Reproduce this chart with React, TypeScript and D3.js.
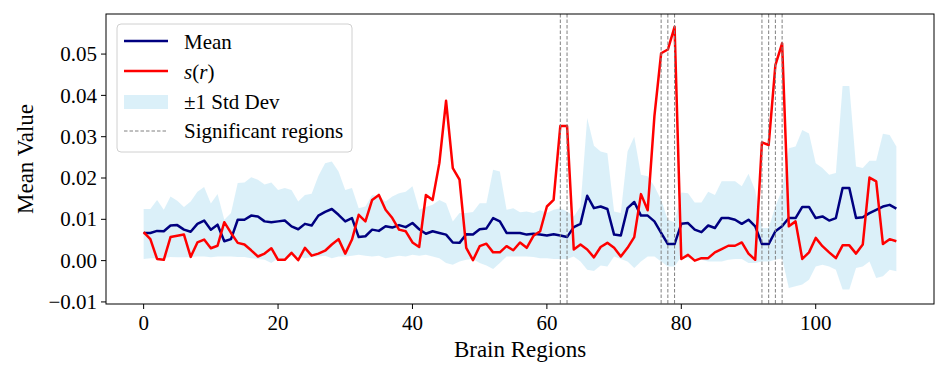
import * as React from 'react'
import * as d3 from 'd3'

// region index 0..112
const meanValues = [
  0.0067, 0.0067, 0.0072, 0.0071, 0.0085, 0.0086, 0.0075, 0.0070, 0.0089, 0.0097,
  0.0075, 0.0087, 0.0047, 0.0052, 0.0099, 0.0099, 0.0109, 0.0107, 0.0095, 0.0093,
  0.0095, 0.0097, 0.0083, 0.0076, 0.0089, 0.0085, 0.0109, 0.0118, 0.0125, 0.0111,
  0.0095, 0.0103, 0.0057, 0.0059, 0.0075, 0.0072, 0.0083, 0.0080, 0.0086, 0.0081,
  0.0091, 0.0076, 0.0065, 0.0071, 0.0067, 0.0063, 0.0044, 0.0043, 0.0064, 0.0063,
  0.0076, 0.0078, 0.0103, 0.0095, 0.0067, 0.0067, 0.0067, 0.0063, 0.0065, 0.0063,
  0.0061, 0.0064, 0.0061, 0.0057, 0.0081, 0.0089, 0.0157, 0.0127, 0.0131, 0.0125,
  0.0063, 0.0061, 0.0127, 0.0142, 0.0109, 0.0109, 0.0095, 0.0067, 0.0040, 0.0040,
  0.0089, 0.0091, 0.0075, 0.0069, 0.0085, 0.0079, 0.0103, 0.0103, 0.0099, 0.0089,
  0.0099, 0.0083, 0.0040, 0.0040, 0.0071, 0.0083, 0.0103, 0.0103, 0.0130, 0.0130,
  0.0103, 0.0107, 0.0097, 0.0103, 0.0176, 0.0176, 0.0103, 0.0105, 0.0115, 0.0123,
  0.0131, 0.0135, 0.0126,
]

const sValues = [
  0.0069, 0.0052, 0.0004, 0.0002, 0.0057, 0.0060, 0.0063, 0.0009, 0.0044, 0.0051,
  0.0030, 0.0036, 0.0093, 0.0067, 0.0043, 0.0039, 0.0025, 0.0010, 0.0017, 0.0030,
  0.0002, 0.0002, 0.0019, 0.0001, 0.0031, 0.0012, 0.0017, 0.0024, 0.0039, 0.0052,
  0.0017, 0.0051, 0.0111, 0.0095, 0.0147, 0.0159, 0.0123, 0.0103, 0.0075, 0.0071,
  0.0044, 0.0033, 0.0159, 0.0147, 0.0236, 0.0387, 0.0224, 0.0196, 0.0031, 0.0001,
  0.0035, 0.0041, 0.0020, 0.0020, 0.0035, 0.0025, 0.0044, 0.0031, 0.0060, 0.0071,
  0.0131, 0.0147, 0.0326, 0.0326, 0.0027, 0.0039, 0.0027, 0.0008, 0.0033, 0.0043,
  0.0031, 0.0010, 0.0031, 0.0057, 0.0161, 0.0122, 0.0350, 0.0502, 0.0511, 0.0566,
  0.0004, 0.0014, 0.0000, 0.0006, 0.0006, 0.0020, 0.0028, 0.0036, 0.0036, 0.0044,
  0.0017, 0.0002, 0.0286, 0.0280, 0.0473, 0.0526, 0.0083, 0.0095, 0.0004, 0.0020,
  0.0055, 0.0035, 0.0020, 0.0006, 0.0037, 0.0037, 0.0017, 0.0039, 0.0201, 0.0192,
  0.0040, 0.0052, 0.0047,
]

const bandUpper = [
  0.0125, 0.0125, 0.0147, 0.0123, 0.0155, 0.0145, 0.0130, 0.0143, 0.0167, 0.0178,
  0.0138, 0.0161, 0.0099, 0.0115, 0.0188, 0.0189, 0.0202, 0.0196, 0.0184, 0.0189,
  0.0171, 0.0176, 0.0171, 0.0143, 0.0159, 0.0162, 0.0205, 0.0236, 0.0240, 0.0216,
  0.0171, 0.0176, 0.0127, 0.0131, 0.0159, 0.0155, 0.0143, 0.0155, 0.0163, 0.0167,
  0.0180, 0.0123, 0.0130, 0.0135, 0.0147, 0.0139, 0.0095, 0.0115, 0.0115, 0.0118,
  0.0139, 0.0139, 0.0220, 0.0216, 0.0123, 0.0127, 0.0117, 0.0119, 0.0115, 0.0122,
  0.0115, 0.0123, 0.0127, 0.0119, 0.0107, 0.0131, 0.0345, 0.0278, 0.0264, 0.0260,
  0.0119, 0.0115, 0.0264, 0.0300, 0.0208, 0.0204, 0.0180, 0.0147, 0.0099, 0.0093,
  0.0165, 0.0163, 0.0141, 0.0141, 0.0167, 0.0159, 0.0192, 0.0192, 0.0192, 0.0180,
  0.0210, 0.0170, 0.0079, 0.0079, 0.0131, 0.0172, 0.0272, 0.0276, 0.0316, 0.0308,
  0.0236, 0.0224, 0.0208, 0.0212, 0.0423, 0.0423, 0.0228, 0.0224, 0.0242, 0.0242,
  0.0307, 0.0304, 0.0276,
]

const bandLower = [
  0.0004, 0.0006, 0.0006, 0.0006, 0.0009, 0.0008, 0.0008, 0.0009, 0.0010, 0.0010,
  0.0008, 0.0010, 0.0010, 0.0010, 0.0009, 0.0009, 0.0006, 0.0004, 0.0002, -0.0006,
  0.0006, 0.0004, 0.0010, 0.0010, 0.0006, 0.0009, 0.0010, 0.0012, 0.0006, 0.0010,
  0.0010, 0.0012, 0.0014, 0.0012, 0.0010, 0.0012, 0.0006, 0.0009, 0.0012, 0.0010,
  0.0014, 0.0012, 0.0014, 0.0010, 0.0006, -0.0006, -0.0010, -0.0002, 0.0002, 0.0004,
  -0.0006, -0.0012, -0.0020, -0.0006, 0.0010, 0.0010, 0.0010, 0.0010, 0.0009, 0.0006,
  0.0006, 0.0004, 0.0004, 0.0004, 0.0010, -0.0002, -0.0022, -0.0025, -0.0012, -0.0014,
  0.0010, 0.0004, -0.0002, -0.0018, -0.0002, 0.0010, 0.0010, -0.0002, -0.0014, -0.0014,
  0.0010, 0.0006, 0.0004, 0.0002, -0.0002, -0.0002, -0.0002, 0.0002, 0.0004, 0.0004,
  -0.0006, -0.0006, -0.0002, -0.0002, 0.0002, 0.0006, -0.0066, -0.0062, -0.0058, -0.0046,
  -0.0014, -0.0010, -0.0014, -0.0022, -0.0070, -0.0070, -0.0018, -0.0014, -0.0002, -0.0042,
  -0.0038, -0.0022, -0.0026,
]

const significantRegions = [62, 63, 77, 78, 79, 92, 93, 94, 95]
const xTicks = [0, 20, 40, 60, 80, 100]
const yTicks = [-0.01, 0, 0.01, 0.02, 0.03, 0.04, 0.05]

const W = 947
const H = 379
const left = 106, right = 934, top = 14, bottom = 304
const serif = '"Liberation Serif", "Times New Roman", serif'

const App = () => {
  const x = d3.scaleLinear().domain([-5.6, 117.6]).range([left, right])
  const y = d3.scaleLinear().domain([-0.0105, 0.0597]).range([bottom, top])
  const idx = d3.range(meanValues.length)

  const band = d3.area<number>()
    .x(i => x(i))
    .y0(i => y(bandLower[i]))
    .y1(i => y(bandUpper[i]))
  const line = (vals: number[]) => d3.line<number>().x(i => x(i)).y(i => y(vals[i]))(idx)
  const fmt = d3.format('.2f')

  const lx = 124, lx2 = 168, tx = 184

  return (
    <div style={{ position: 'absolute', left: 0, top: 0 }}>
      <svg width={W} height={H} style={{ display: 'block', background: '#fff' }}>
        <path d={band(idx) || ''} fill="skyblue" fillOpacity={0.3} stroke="none" />
        <path d={line(meanValues) || ''} fill="none" stroke="#000080" strokeWidth={2.5} strokeLinejoin="round" />
        <path d={line(sValues) || ''} fill="none" stroke="#ff0000" strokeWidth={2.5} strokeLinejoin="round" />
        {significantRegions.map(r => (
          <line key={r} x1={x(r)} x2={x(r)} y1={top} y2={bottom} stroke="#808080" strokeWidth={1} strokeDasharray="3.5,2" />
        ))}

        {/* axes frame */}
        <rect x={left} y={top} width={right - left} height={bottom - top} fill="none" stroke="#000" strokeWidth={1} />

        {xTicks.map(t => (
          <g key={t} transform={`translate(${x(t)},${bottom})`}>
            <line y2={5} stroke="#000" />
            <text y={26} textAnchor="middle" fontFamily={serif} fontSize={21}>{t}</text>
          </g>
        ))}
        {yTicks.map(t => (
          <g key={t} transform={`translate(${left},${y(t)})`}>
            <line x2={-5} stroke="#000" />
            <text x={-9} dy="0.34em" textAnchor="end" fontFamily={serif} fontSize={21}>{fmt(t)}</text>
          </g>
        ))}

        <text x={(left + right) / 2} y={357} textAnchor="middle" fontFamily={serif} fontSize={23}>Brain Regions</text>
        <text transform={`translate(33,${(top + bottom) / 2}) rotate(-90)`} textAnchor="middle" fontFamily={serif} fontSize={23}>Mean Value</text>

        {/* legend */}
        <g fontFamily={serif} fontSize={21}>
          <rect x={117} y={24} width={235} height={128} rx={4} fill="#fff" fillOpacity={0.8} stroke="#d0d0d0" />
          <line x1={lx} x2={lx2} y1={41} y2={41} stroke="#000080" strokeWidth={2.5} />
          <text x={tx} y={49}>Mean</text>
          <line x1={lx} x2={lx2} y1={71} y2={71} stroke="#ff0000" strokeWidth={2.5} />
          <text x={tx} y={79}>
            <tspan fontStyle="italic">s</tspan>(<tspan fontStyle="italic">r</tspan>)
          </text>
          <rect x={lx} y={95} width={lx2 - lx} height={14} fill="skyblue" fillOpacity={0.3} />
          <text x={tx} y={109}>±1 Std Dev</text>
          <line x1={lx} x2={lx2} y1={131} y2={131} stroke="#808080" strokeWidth={1} strokeDasharray="3.5,2" />
          <text x={tx} y={138}>Significant regions</text>
        </g>
      </svg>
    </div>
  )
}

export default App
